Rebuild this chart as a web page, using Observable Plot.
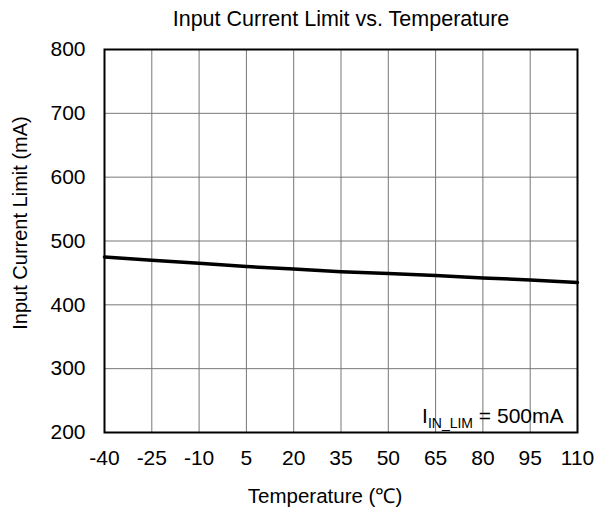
<!DOCTYPE html>
<html><head><meta charset="utf-8">
<script src="https://cdn.jsdelivr.net/npm/d3@7"></script>
<script src="https://cdn.jsdelivr.net/npm/@observablehq/plot@0.6"></script>
<style>body{margin:0;background:#fff}</style>
</head><body><div id="chart"></div>
<script>
const temperatures = [-40, -25, -10, 5, 20, 35, 50, 65, 80, 95, 110];
const currentLimit = [475, 470, 465, 460, 456, 452, 449, 446, 442, 439, 435];
const xTicks = [-40, -25, -10, 5, 20, 35, 50, 65, 80, 95, 110];
const yTicks = [200, 300, 400, 500, 600, 700, 800];
const titleText = "Input Current Limit vs. Temperature";
const xLabel = "Temperature (℃)";
const yLabel = "Input Current Limit (mA)";
const noteMain = "I";
const noteSub = "IN_LIM";
const noteRest = " = 500mA";

const data = temperatures.map((t, i) => ({t, v: currentLimit[i]}));
const font = "Liberation Sans, Arial, sans-serif";

const plot = Plot.plot({
  width: 606, height: 514,
  marginLeft: 104, marginRight: 29, marginTop: 49, marginBottom: 82,
  style: {fontFamily: font, fontSize: "21px", color: "#000", background: "#fff", overflow: "visible"},
  x: {domain: [-40, 110], label: null},
  y: {domain: [200, 800], label: null},
  marks: [
    Plot.gridX(xTicks, {stroke: "#777", strokeOpacity: 1, strokeWidth: 1}),
    Plot.gridY(yTicks, {stroke: "#777", strokeOpacity: 1, strokeWidth: 1}),
    Plot.axisX(xTicks, {tickSize: 0, tickPadding: 18, tickFormat: d => String(d), label: null, fontSize: 21}),
    Plot.axisY(yTicks, {tickSize: 0, tickPadding: 19, tickFormat: d => String(d), label: null, fontSize: 21}),
    Plot.line(data, {x: "t", y: "v", stroke: "#000", strokeWidth: 3.5}),
    Plot.frame({stroke: "#000", strokeWidth: 2}),
    Plot.text([titleText], {frameAnchor: "top", lineAnchor: "top", dy: -39, fontSize: 21.5}),
    Plot.text([xLabel], {frameAnchor: "bottom", lineAnchor: "top", dx: -16, dy: 56, fontSize: 20.5}),
    Plot.text([yLabel], {frameAnchor: "left", textAnchor: "middle", dx: -84, dy: -18, rotate: -90, fontSize: 20}),
    Plot.text([noteMain + noteSub + noteRest], {frameAnchor: "bottom-right", lineAnchor: "bottom", dx: -14, dy: -10, textAnchor: "end", fontSize: 21, className: "note"})
  ]
});
document.getElementById("chart").appendChild(plot);

// rebuild the annotation with a subscript and a white box behind it
const noteText = d3.select(plot).select("g.note text");
noteText.text(null);
noteText.append("tspan").text(noteMain);
noteText.append("tspan").attr("font-size", 14).attr("dy", 5).text(noteSub);
noteText.append("tspan").attr("dy", -5).text(noteRest);
const bb = noteText.node().getBBox();
d3.select(plot).select("g.note").insert("rect", "text")
  .attr("x", bb.x - 3).attr("y", bb.y - 3)
  .attr("width", bb.width + 6).attr("height", bb.height)
  .attr("fill", "#fff");
</script>
</body></html>
